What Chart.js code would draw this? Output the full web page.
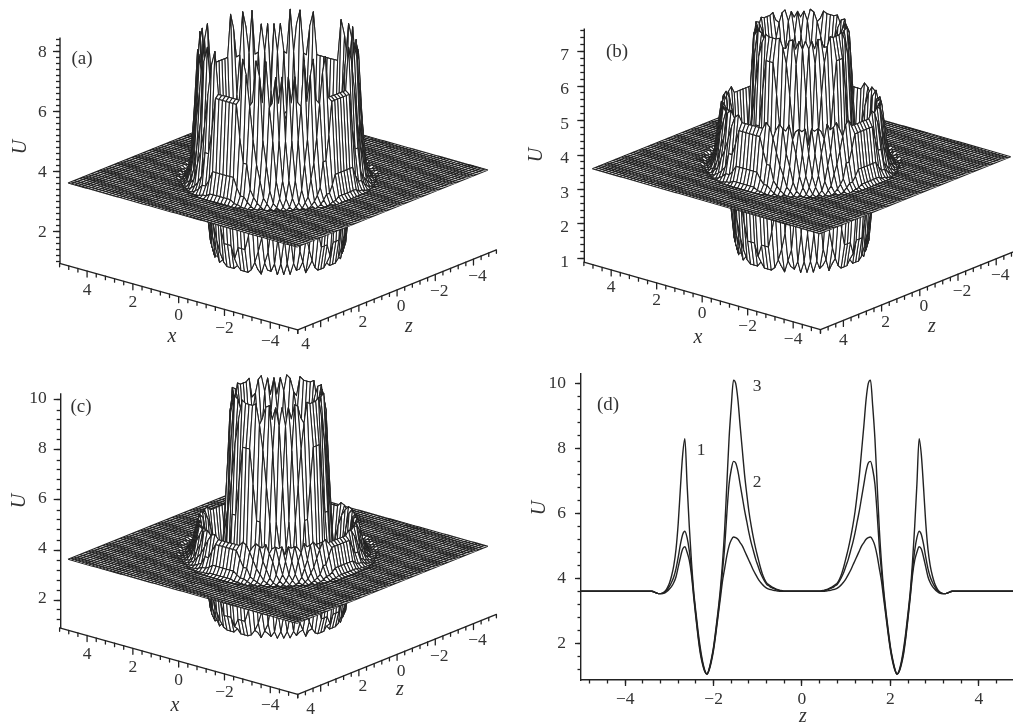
<!DOCTYPE html>
<html>
<head>
<meta charset="utf-8">
<title>U surfaces</title>
<script src="https://cdn.jsdelivr.net/npm/chart.js"></script>
<style>
html, body { margin: 0; padding: 0; background: #fff; }
body { position: relative; width: 1013px; height: 724px; overflow: hidden; }
canvas { position: absolute; }
</style>
</head>
<body>
<canvas id="panelA"></canvas>
<canvas id="panelB"></canvas>
<canvas id="panelC"></canvas>
<canvas id="panelD"></canvas>
<script>
// Panel (a) uses curve 1, panel (b) curve 2, panel (c) curve 3: the rings are the same.
const radii = [0, 0.05, 0.1, 0.15, 0.2, 0.25, 0.3, 0.35, 0.4, 0.45, 0.5, 0.55, 0.6, 0.65, 0.7, 0.75, 0.8, 0.85, 0.9, 0.95,
  1, 1.05, 1.1, 1.15, 1.2, 1.25, 1.3, 1.35, 1.4, 1.45, 1.5, 1.55, 1.6, 1.65, 1.7, 1.75, 1.8, 1.85, 1.9, 1.95,
  2, 2.05, 2.1, 2.15, 2.2, 2.25, 2.3, 2.35, 2.4, 2.45, 2.5, 2.55, 2.6, 2.65, 2.7, 2.75, 2.8, 2.85, 2.9, 2.95,
  3, 3.05, 3.1, 3.15, 3.2, 3.25, 3.3];
const curve1 = [3.6, 3.6, 3.6, 3.6, 3.6, 3.6, 3.6, 3.6, 3.6, 3.6, 3.6, 3.61, 3.62, 3.63, 3.65, 3.67, 3.7, 3.75, 3.82, 3.9,
  4.0, 4.12, 4.25, 4.4, 4.55, 4.7, 4.85, 5.0, 5.1, 5.2, 5.25, 5.27, 5.18, 5.0, 4.7, 4.3, 3.9, 3.35, 2.82, 2.28,
  1.8, 1.44, 1.18, 1.05, 1.17, 1.45, 1.85, 2.35, 2.95, 3.6, 4.5, 5.6, 6.9, 8.3, 7.8, 6.8, 5.7, 4.9, 4.4, 4.08,
  3.85, 3.7, 3.6, 3.55, 3.53, 3.53, 3.55];
const curve2 = [3.6, 3.6, 3.6, 3.6, 3.6, 3.6, 3.6, 3.6, 3.6, 3.61, 3.62, 3.64, 3.66, 3.69, 3.72, 3.77, 3.82, 3.92, 4.05, 4.2,
  4.4, 4.6, 4.85, 5.1, 5.4, 5.75, 6.1, 6.5, 6.9, 7.3, 7.55, 7.6, 7.35, 6.9, 6.0, 4.95, 4.2, 3.5, 2.9, 2.35,
  1.85, 1.48, 1.2, 1.05, 1.15, 1.4, 1.75, 2.25, 2.85, 3.5, 4.25, 4.85, 5.25, 5.45, 5.35, 5.05, 4.65, 4.3, 4.05, 3.88,
  3.75, 3.65, 3.58, 3.54, 3.53, 3.53, 3.55];
const curve3 = [3.6, 3.6, 3.6, 3.6, 3.6, 3.6, 3.6, 3.6, 3.6, 3.62, 3.63, 3.65, 3.68, 3.71, 3.75, 3.8, 3.86, 3.98, 4.15, 4.38,
  4.65, 4.93, 5.25, 5.62, 6.05, 6.6, 7.2, 7.95, 8.7, 9.5, 10.0, 10.1, 9.3, 8.3, 6.9, 5.5, 4.45, 3.62, 2.98, 2.42,
  1.9, 1.52, 1.22, 1.05, 1.13, 1.35, 1.68, 2.18, 2.78, 3.42, 4.1, 4.55, 4.8, 4.97, 4.9, 4.65, 4.35, 4.05, 3.87, 3.75,
  3.67, 3.6, 3.55, 3.53, 3.53, 3.53, 3.55];

const zTickLabels = [-4, -2, 0, 2, 4];
const uTicksD = [2, 4, 6, 8, 10];
const uTicksA = [2, 4, 6, 8];
const uTicksB = [1, 2, 3, 4, 5, 6, 7];
const uTicksC = [2, 4, 6, 8, 10];
const xTickLabels3d = [4, 2, 0, -2, -4];
const zTickLabels3d = [4, 2, 0, -2, -4];

const flatLevel = 3.6;
const INK = '#222';
const TEXT = '#333';
const SERIF = '"Liberation Serif", serif';
const GAP = { x: NaN, y: NaN };
const gridStep = 10 / 66;
const gridHalf = 33;
const axisEnd = 5.2;

// Panel geometry in page pixels
const panelA = {
  id: 'panelA', left: 0, top: 0, width: 510, height: 365, axisX: 60, u4Y: 171.7, k: 30,
  cx: 278, cy: 176.5, sx: 22.9, sz: 19.1, vx: 6.4, vz: 7.7,
  uBottom: 0.93, uTop: 8.47, minorFrom: 1, minorTo: 8.4, minorStep: 0.2,
  rings: curve1, uTicks: uTicksA, uLabelRight: 46.7, uLabelDy: 1,
  xLabelDy: 19, zLabelShift: [4, 17], zFourShift: [-15, 24],
  xName: [172, 337], zName: [409, 327], tag: ['(a)', 82, 59], uName: [21, 147]
};
const panelB = {
  id: 'panelB', left: 510, top: 0, width: 503, height: 365, axisX: 584.3, u4Y: 155, k: 34.5,
  cx: 801.5, cy: 162.7, sx: 22.75, sz: 19.1, vx: 6.5, vz: 7.7,
  uBottom: 0.9, uTop: 7.67, minorFrom: 1, minorTo: 7.6, minorStep: 0.2,
  rings: curve2, uTicks: uTicksB, uLabelRight: 569, uLabelDy: 3.5,
  xLabelDy: 18, zLabelShift: [4, 17], zFourShift: [0, 20],
  xName: [698, 338], zName: [932, 327], tag: ['(b)', 617, 52], uName: [537, 155]
};
const panelC = {
  id: 'panelC', left: 0, top: 365, width: 510, height: 359, axisX: 60.7, u4Y: 550, k: 25,
  cx: 278, cy: 552.8, sx: 22.9, sz: 19.1, vx: 6.4, vz: 7.7,
  uBottom: 0.87, uTop: 10.27, minorFrom: 1.2, minorTo: 10, minorStep: 0.4,
  rings: curve3, uTicks: uTicksC, uLabelRight: 46.7, uLabelDy: -1.5,
  xLabelDy: 19, zLabelShift: [4, 17], zFourShift: [-10, 24],
  xName: [175, 706], zName: [400, 690], tag: ['(c)', 81, 407], uName: [20, 501]
};

function minus(v) {
  return String(v).replace('-', '\u2212');
}

// Screen point for (x, z, U): horizontal value is the page pixel, vertical value stays on the U scale
function project(p, x, z, u) {
  const y36 = p.u4Y + 0.4 * p.k;
  return {
    x: p.cx - p.sx * x - p.sz * z,
    y: 3.6 + (y36 - p.cy + p.vx * x - p.vz * z + p.k * (u - 3.6)) / p.k
  };
}

function minorValues(from, to, step) {
  const out = [];
  const count = Math.round((to - from) / step);
  for (let i = 0; i <= count; i++) out.push(+(from + i * step).toFixed(2));
  return out;
}

function strokeSet(data, width) {
  return { data, borderColor: INK, borderWidth: width, fill: false };
}

function fillSet(data, width) {
  return { data, borderColor: INK, borderWidth: width, fill: 'shape', backgroundColor: '#fff' };
}

// Painter's order: rows from the far x edge to the near one, inside a row from far z to near z.
// Chart.js paints the first dataset last, so the list is reversed at the end.
function surfaceDatasets(p) {
  const sets = [];
  // a grid point takes the value of the ring it sits on, anything past the last ring is the flat level
  const height = (i, j) => {
    const bin = Math.round(gridStep * Math.hypot(i, j) / 0.05);
    return bin < p.rings.length ? p.rings[bin] : flatLevel;
  };
  const pt = (i, j) => project(p, i * gridStep, j * gridStep, height(i, j));
  const isFlat = (i, j) => height(i, j) === flatLevel && height(i + 1, j) === flatLevel &&
    height(i, j + 1) === flatLevel && height(i + 1, j + 1) === flatLevel;

  for (let i = gridHalf - 1; i >= -gridHalf; i--) {
    let j = -gridHalf;
    while (j < gridHalf) {
      if (isFlat(i, j)) {
        let end = j;
        while (end < gridHalf && isFlat(i, end)) end++;
        sets.push(fillSet([pt(i, j), pt(i + 1, j), pt(i + 1, end), pt(i, end), pt(i, j)], 0));
        const lines = [pt(i, j), pt(i, end), GAP, pt(i + 1, j), pt(i + 1, end)];
        for (let k = j; k <= end; k++) lines.push(GAP, pt(i, k), pt(i + 1, k));
        sets.push(strokeSet(lines, 1.15));
        j = end;
      } else {
        sets.push(fillSet([pt(i, j), pt(i + 1, j), pt(i + 1, j + 1), pt(i, j + 1), pt(i, j)], 1.05));
        j++;
      }
    }
  }

  // Oblique x and z axes on the floor, plus the U axis line
  const base = p.uBottom;
  const tickDrop = (q, len) => ({ x: q.x, y: q.y - len / p.k });
  const xTicks = [], zTicks = [];
  minorValues(-axisEnd, axisEnd, 0.4).forEach(v => {
    const isMajor = Math.abs(v) < 4.1 && Math.abs(v * 5) % 10 < 0.01;
    const qx = project(p, v, axisEnd, base);
    const qz = project(p, -axisEnd, v, base);
    xTicks.push(qx, tickDrop(qx, isMajor ? 6 : 3.5), GAP);
    zTicks.push(qz, tickDrop(qz, isMajor ? 6 : 3.5), GAP);
  });
  sets.push(strokeSet(xTicks, 1.3), strokeSet(zTicks, 1.3));
  sets.push(strokeSet([project(p, axisEnd, axisEnd, base), project(p, -axisEnd, axisEnd, base), project(p, -axisEnd, -axisEnd, base)], 1.4));
  sets.push(strokeSet([{ x: p.axisX, y: p.uBottom }, { x: p.axisX, y: p.uTop }], 1.4));
  return sets.reverse();
}

function drawText(ctx, text, x, y, font, rotate) {
  ctx.save();
  ctx.translate(x, y);
  if (rotate) ctx.rotate(-Math.PI / 2);
  ctx.font = font;
  ctx.fillStyle = TEXT;
  ctx.textAlign = 'center';
  ctx.textBaseline = 'middle';
  ctx.fillText(text, 0, 0);
  ctx.restore();
}

// Labels of the surface panels, placed through the chart's scales
const surfaceLabels = {
  id: 'surfaceLabels',
  afterDraw(chart, args, opts) {
    const p = opts.panel;
    const ctx = chart.ctx;
    const digit = '17.5px ' + SERIF;
    const ital = 'italic 20px ' + SERIF;
    const sx = chart.scales.x, sy = chart.scales.y;
    const at = (q) => [sx.getPixelForValue(q.x), sy.getPixelForValue(q.y)];

    ctx.save();
    ctx.font = digit;
    ctx.fillStyle = TEXT;
    ctx.textAlign = 'right';
    ctx.textBaseline = 'middle';
    p.uTicks.forEach(v => {
      ctx.fillText(String(v), p.uLabelRight - p.left, sy.getPixelForValue(v) + p.uLabelDy);
    });
    ctx.restore();

    xTickLabels3d.forEach(v => {
      const [tx, ty] = at(project(p, v, axisEnd, p.uBottom));
      drawText(ctx, minus(v), tx, ty + p.xLabelDy, digit);
    });
    zTickLabels3d.forEach(v => {
      const [tx, ty] = at(project(p, -axisEnd, v, p.uBottom));
      const shift = v === 4 ? p.zFourShift : p.zLabelShift;
      drawText(ctx, minus(v), tx + shift[0], ty + shift[1], digit);
    });

    drawText(ctx, 'x', p.xName[0] - p.left, p.xName[1] - p.top, ital);
    drawText(ctx, 'z', p.zName[0] - p.left, p.zName[1] - p.top, ital);
    drawText(ctx, 'U', p.uName[0] - p.left, p.uName[1] - p.top, ital, true);
    drawText(ctx, p.tag[0], p.tag[1] - p.left, p.tag[2] - p.top, '19px ' + SERIF);
  }
};

function zeroFit(scale) {
  scale.width = 0;
  scale.paddingTop = 0;
  scale.paddingBottom = 0;
  scale.paddingLeft = 0;
  scale.paddingRight = 0;
}

function zeroFitX(scale) {
  scale.height = 0;
  scale.paddingTop = 0;
  scale.paddingBottom = 0;
  scale.paddingLeft = 0;
  scale.paddingRight = 0;
}

function tickAxis(min, max, values, length) {
  return {
    position: 'left', min, max,
    afterBuildTicks: (s) => { s.ticks = values.map(value => ({ value })); },
    afterFit: zeroFit,
    border: { display: false },
    grid: { drawOnChartArea: false, tickLength: length, tickColor: INK, tickWidth: 1.3 },
    ticks: { display: false, autoSkip: false }
  };
}

function drawSurface(p) {
  const canvas = document.getElementById(p.id);
  canvas.width = p.width;
  canvas.height = p.height;
  canvas.style.left = p.left + 'px';
  canvas.style.top = p.top + 'px';

  const uMax = 4 + (p.u4Y - p.top) / p.k;
  const uMin = 4 - (p.top + p.height - p.u4Y) / p.k;

  return new Chart(canvas, {
    type: 'scatter',
    data: { datasets: surfaceDatasets(p) },
    plugins: [surfaceLabels],
    options: {
      responsive: false,
      animation: false,
      events: [],
      layout: { padding: { left: p.axisX - p.left, top: 0, right: 0, bottom: 0 } },
      datasets: {
        scatter: { showLine: true, pointRadius: 0, spanGaps: false, clip: false, borderJoinStyle: 'round' }
      },
      plugins: {
        legend: { display: false },
        tooltip: { enabled: false },
        colors: { enabled: false },
        surfaceLabels: { panel: p }
      },
      scales: {
        x: { type: 'linear', min: p.axisX, max: p.left + p.width, display: false },
        y: tickAxis(uMin, uMax, p.uTicks, 7),
        yMinor: tickAxis(uMin, uMax, minorValues(p.minorFrom, p.minorTo, p.minorStep), 4)
      }
    }
  });
}

[panelA, panelB, panelC].forEach(drawSurface);

// Panel (d): the curves mirror about z = 0, with flat tails past the last ring
const zRight = radii.concat([3.4, 5]);
const zAll = zRight.slice(1).reverse().map(v => -v).concat(zRight);
function seriesPoints(values) {
  const right = values.concat([flatLevel, flatLevel]);
  const both = right.slice(1).reverse().concat(right);
  return both.map((u, i) => ({ x: zAll[i], y: u }));
}

const curveLabels = {
  id: 'curveLabels',
  // tick labels are clipped to the scale box, so open the boxes out once the layout is done
  afterLayout(chart) {
    chart.scales.y.left = 0;
    chart.scales.x.bottom = chart.height;
  },
  afterDraw(chart) {
    const ctx = chart.ctx;
    const digit = '17.5px ' + SERIF;
    drawText(ctx, '1', 701 - 510, 450 - 365, digit);
    drawText(ctx, '2', 757 - 510, 482 - 365, digit);
    drawText(ctx, '3', 757 - 510, 386 - 365, digit);
    drawText(ctx, '(d)', 608 - 510, 405 - 365, '19px ' + SERIF);
    drawText(ctx, 'U', 540 - 510, 508 - 365, 'italic 20px ' + SERIF, true);
    drawText(ctx, 'z', 803 - 510, 717 - 365, 'italic 20px ' + SERIF);
  }
};

const canvasD = document.getElementById('panelD');
canvasD.width = 503;
canvasD.height = 359;
canvasD.style.left = '510px';
canvasD.style.top = '365px';

new Chart(canvasD, {
  type: 'scatter',
  data: {
    datasets: [curve1, curve2, curve3].map(values => ({
      data: seriesPoints(values),
      showLine: true,
      pointRadius: 0,
      borderColor: INK,
      borderWidth: 1.4,
      cubicInterpolationMode: 'monotone'
    }))
  },
  plugins: [curveLabels],
  options: {
    responsive: false,
    animation: false,
    events: [],
    layout: { padding: { left: 71, top: 9, right: 0, bottom: 44 } },
    plugins: { legend: { display: false }, tooltip: { enabled: false } },
    scales: {
      x: {
        type: 'linear', position: 'bottom', min: -5, max: 4.774,
        afterBuildTicks: (s) => { s.ticks = zTickLabels.map(value => ({ value })); },
        afterFit: zeroFitX,
        border: { display: true, color: INK, width: 1.4 },
        grid: { drawOnChartArea: false, tickLength: 6, tickColor: INK, tickWidth: 1.3 },
        ticks: { color: TEXT, font: { family: SERIF, size: 17.5 }, padding: 3, maxRotation: 0, autoSkip: false, callback: v => minus(v) }
      },
      xMinor: {
        type: 'linear', position: 'bottom', min: -5, max: 4.774,
        afterBuildTicks: (s) => { s.ticks = minorValues(-4.8, 4.8, 0.4).filter(v => v <= 4.774).map(value => ({ value })); },
        afterFit: zeroFitX,
        border: { display: false },
        grid: { drawOnChartArea: false, tickLength: 3.5, tickColor: INK, tickWidth: 1.3 },
        ticks: { display: false, autoSkip: false }
      },
      y: {
        position: 'left', min: 0.87, max: 10.29,
        afterBuildTicks: (s) => { s.ticks = uTicksD.map(value => ({ value })); },
        afterFit: zeroFit,
        border: { display: true, color: INK, width: 1.4 },
        grid: { drawOnChartArea: false, tickLength: 6, tickColor: INK, tickWidth: 1.3 },
        ticks: { color: TEXT, font: { family: SERIF, size: 17.5 }, padding: 9, autoSkip: false }
      },
      yMinor: tickAxis(0.87, 10.29, minorValues(1.2, 10, 0.4), 3.5)
    }
  }
});
</script>
</body>
</html>
